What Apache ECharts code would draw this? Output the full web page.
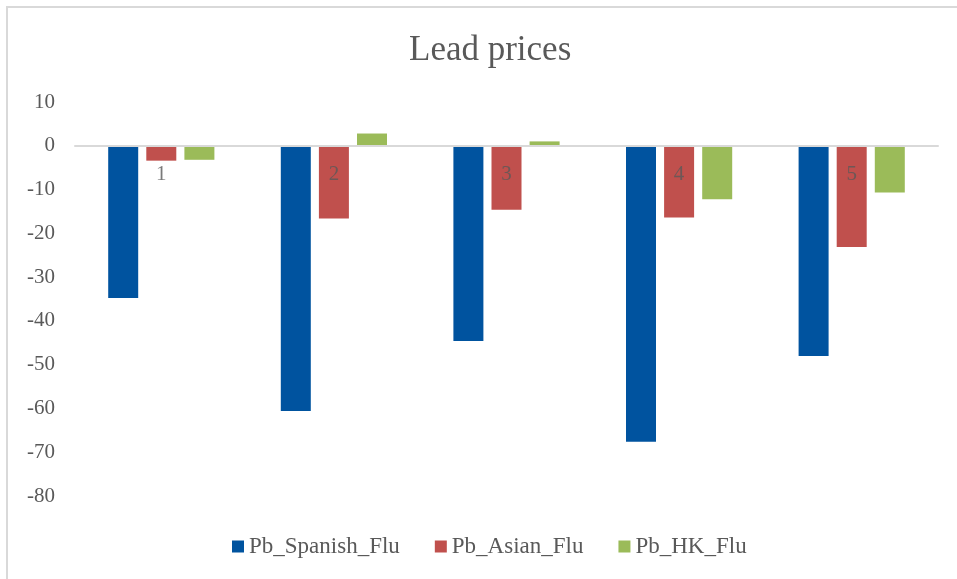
<!DOCTYPE html>
<html>
<head>
<meta charset="utf-8">
<title>Lead prices</title>
<script src="https://cdn.jsdelivr.net/npm/echarts@6/dist/echarts.min.js"></script>
<style>
  html, body { margin: 0; padding: 0; background: #fff; }
  #chart { width: 957px; height: 579px; }
</style>
</head>
<body>
<div id="chart"></div>
<script>
// categories and series
const categories = ["1", "2", "3", "4", "5"];
const spanishFlu = [-34.8, -60.6, -44.6, -67.6, -48.0];
const asianFlu = [-3.4, -16.6, -14.6, -16.4, -23.1];
const hkFlu = [-3.2, 2.8, 1.0, -12.2, -10.7];

const font = "'Liberation Serif', 'DejaVu Serif', serif";
const grey = "#595959";

const chart = echarts.init(document.getElementById("chart"));

function bar(name, data, color) {
  return {
    name: name,
    type: "bar",
    data: data,
    barWidth: 30,
    barGap: "27%",
    itemStyle: { color: color },
  };
}

chart.setOption({
  animation: false,
  textStyle: { fontFamily: font },
  title: {
    text: "Lead prices",
    left: 404,
    top: 28,
    textStyle: { fontFamily: font, fontSize: 35, fontWeight: "normal", color: grey },
  },
  // the light frame around the chart area
  graphic: [
    {
      type: "rect",
      shape: { x: 7, y: 7, width: 1000, height: 600 },
      style: { fill: null, stroke: "#d9d9d9", lineWidth: 2 },
      silent: true,
    },
  ],
  legend: {
    data: ["Pb_Spanish_Flu", "Pb_Asian_Flu", "Pb_HK_Flu"],
    bottom: 16,
    left: 227,
    itemWidth: 12,
    itemHeight: 12,
    itemGap: 35,
    icon: "rect",
    textStyle: { fontFamily: font, fontSize: 23, color: grey },
  },
  grid: { left: 75, right: 19, top: 102, bottom: 83 },
  xAxis: {
    type: "category",
    data: categories,
    z: 10,
    axisLine: { onZero: true, lineStyle: { color: "#d9d9d9", width: 2 } },
    axisTick: { show: false },
    axisLabel: { show: false },
  },
  yAxis: {
    type: "value",
    min: -80,
    max: 10,
    interval: 10,
    splitLine: { show: false },
    axisLine: { show: false },
    axisTick: { show: false },
    axisLabel: { fontFamily: font, fontSize: 21, color: grey, margin: 20 },
  },
  series: [
    bar("Pb_Spanish_Flu", spanishFlu, "#00539f"),
    bar("Pb_Asian_Flu", asianFlu, "#c0504d"),
    bar("Pb_HK_Flu", hkFlu, "#9bbb59"),
    {
      // category labels sitting just under the zero line, over the bars
      name: "labels",
      type: "scatter",
      data: categories.map((c) => [c, 0]),
      symbolSize: 0,
      z: 20,
      silent: true,
      label: {
        show: true,
        position: "bottom",
        distance: 18,
        formatter: (p) => p.value[0],
        fontFamily: font,
        fontSize: 21,
        color: grey,
      },
    },
  ],
});
</script>
</body>
</html>
